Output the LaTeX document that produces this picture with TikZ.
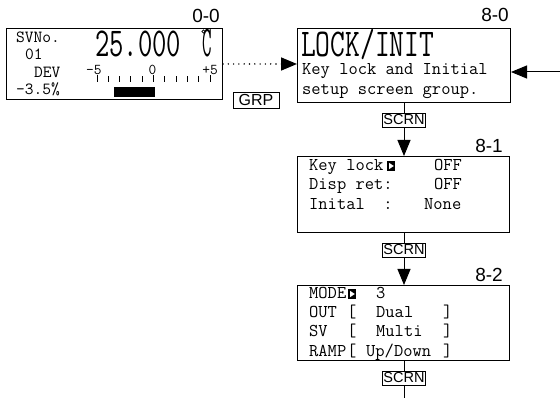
\documentclass[tikz,border=0pt]{standalone}
\usepackage{fontspec}
\setsansfont{Liberation Sans}
\usetikzlibrary{arrows.meta}

\newcommand{\lcd}[1]{\fontsize{#1}{#1}\selectfont\ttfamily}
\newcommand{\bigmono}[3]{\scalebox{#1}[1]{\fontsize{#2}{#2}\selectfont\ttfamily #3}}

\begin{document}
\begin{tikzpicture}[x=1pt, y=-1pt,
  lcdbox/.style={draw=black, line width=1pt, fill=white, anchor=north west, inner sep=0pt},
  lcdrow/.style={anchor=base west, inner sep=0pt, font=\lcd{17}},
  menurow/.style={anchor=base west, inner sep=0pt, font=\lcd{18}},
  bigrow/.style={anchor=base west, inner sep=0pt, text height=25pt, text depth=0pt},
  scrlabel/.style={anchor=base east, inner sep=0pt, font=\sffamily\fontsize{19}{19}\selectfont},
  keybox/.style={draw=black, line width=0.8pt, fill=white, inner sep=0pt, minimum width=43pt, minimum height=14pt, font=\sffamily\fontsize{14.5}{14.5}\selectfont},
  flowline/.style={draw=black, line width=1pt},
  flowtip/.style={-{Triangle[length=16pt, width=13pt]}},
  cursor/.pic={\fill (0,0) rectangle (8,-10); \fill[white] (2,-1.8) -- (2,-8.2) -- (6.8,-5) -- cycle;},
]
  \useasboundingbox (0,0) rectangle (560,398);
  % screen 0-0
  \node[lcdbox, minimum width=216pt, minimum height=71pt] (home) at (6,28) {};
  \node[scrlabel] (homeno) at (220,23) {0-0};
  \node[lcdrow] (svno) at (16,43) {SVNo.};
  \node[lcdrow] (svnum) at (25,60) {01};
  \node[lcdrow] (dev) at (34,78) {DEV};
  \node[lcdrow] (devval) at (16,95) {-3.5\%};
  \node[bigrow] (pv) at (95,57) {\bigmono{0.68}{41}{25.000}};
  \node[bigrow] (unit) at (202,57) {\bigmono{0.42}{44}{C}};
  \draw[line width=0.6pt] (203.5,31.5) circle (1.6);
  \node[lcdrow, font=\lcd{15}] (lo) at (86,75) {-5};
  \node[anchor=base, inner sep=0pt, font=\lcd{15}] (mid) at (152.5,75) {0};
  \node[anchor=base east, inner sep=0pt, font=\lcd{15}] (hi) at (218,75) {+5};
  \foreach \i in {0,...,10}
    \draw[line width=1pt] (97+11.3*\i,82) -- ++(0,-6);
  \foreach \i in {0,5,10}
    \draw[line width=1pt] (97+11.3*\i,77) -- ++(0,-2);
  \fill (114,87) rectangle (155,97);
  \node[keybox, minimum width=46pt, minimum height=16pt, font=\sffamily\fontsize{16}{16}\selectfont] (grp) at (256,100) {GRP};
  % screen 8-0
  \node[lcdbox, minimum width=213pt, minimum height=74pt] (lock) at (297,28) {};
  \node[scrlabel] (lockno) at (509,22) {8-0};
  \node[bigrow] (locktitle) at (301,57) {\bigmono{0.73}{39.3}{LOCK/INIT}};
  \node[menurow] (lockrow1) at (302,75) {Key~lock~and~Initial};
  \node[menurow] (lockrow2) at (302,95) {setup~screen~group.};
  % screen 8-1
  \node[lcdbox, minimum width=212pt, minimum height=76pt] (keyl) at (297,156) {};
  \node[scrlabel] (keylno) at (503,153) {8-1};
  \node[menurow] (keylrow1) at (309,171) {Key~lock};
  \pic at (387,171) {cursor};
  \node[menurow] (keyloff) at (434,171) {OFF};
  \node[menurow] (keylrow2) at (309,190) {Disp~ret:};
  \node[menurow] (disploff) at (434,190) {OFF};
  \node[menurow] (keylrow3) at (309,210) {Inital~~:};
  \node[menurow] (initnone) at (424,210) {None};
  % screen 8-2
  \node[lcdbox, minimum width=212pt, minimum height=75pt] (mode) at (297,285) {};
  \node[scrlabel] (modeno) at (503,282) {8-2};
  \node[menurow] (moderow0) at (309,299) {MODE};
  \pic at (348,299) {cursor};
  \node[menurow] (modeval0) at (376,299) {3};
  \foreach \lbl/\val/\vx [count=\r] in {OUT/Dual/376, SV/Multi/376, RAMP/Up\slash Down/366} {
    \node[menurow] (moderow\r) at (309,299+19*\r) {\lbl};
    \node[menurow] (modeopen\r) at (347,299+19*\r) {[};
    \node[menurow] (modeval\r) at (\vx,299+19*\r) {\val};
    \node[menurow] (modeclose\r) at (443,299+19*\r) {]};
  }
  % keys
  \node[keybox] (scrn1) at (404,120) {SCRN};
  \node[keybox] (scrn2) at (404,250) {SCRN};
  \node[keybox] (scrn3) at (404,378) {SCRN};
  \coordinate (back) at (560,72);
  \coordinate (more) at (404,398);
  % connectors
  \draw[flowline, flowtip, line cap=round, dash pattern=on 0pt off 5.3pt, line width=1.6pt] (home.east) -- (home.east -| lock.west);
  \draw[flowline, flowtip] (back) -- (back -| lock.east);
  \draw[flowline] (lock.south) -- (scrn1.north);
  \draw[flowline, flowtip] (scrn1.south) -- (scrn1.south |- keyl.north);
  \draw[flowline] (keyl.south -| scrn2) -- (scrn2.north);
  \draw[flowline, flowtip] (scrn2.south) -- (scrn2.south |- mode.north);
  \draw[flowline] (mode.south -| scrn3) -- (scrn3.north);
  \draw[flowline] (scrn3.south) -- (more);
\end{tikzpicture}
\end{document}
